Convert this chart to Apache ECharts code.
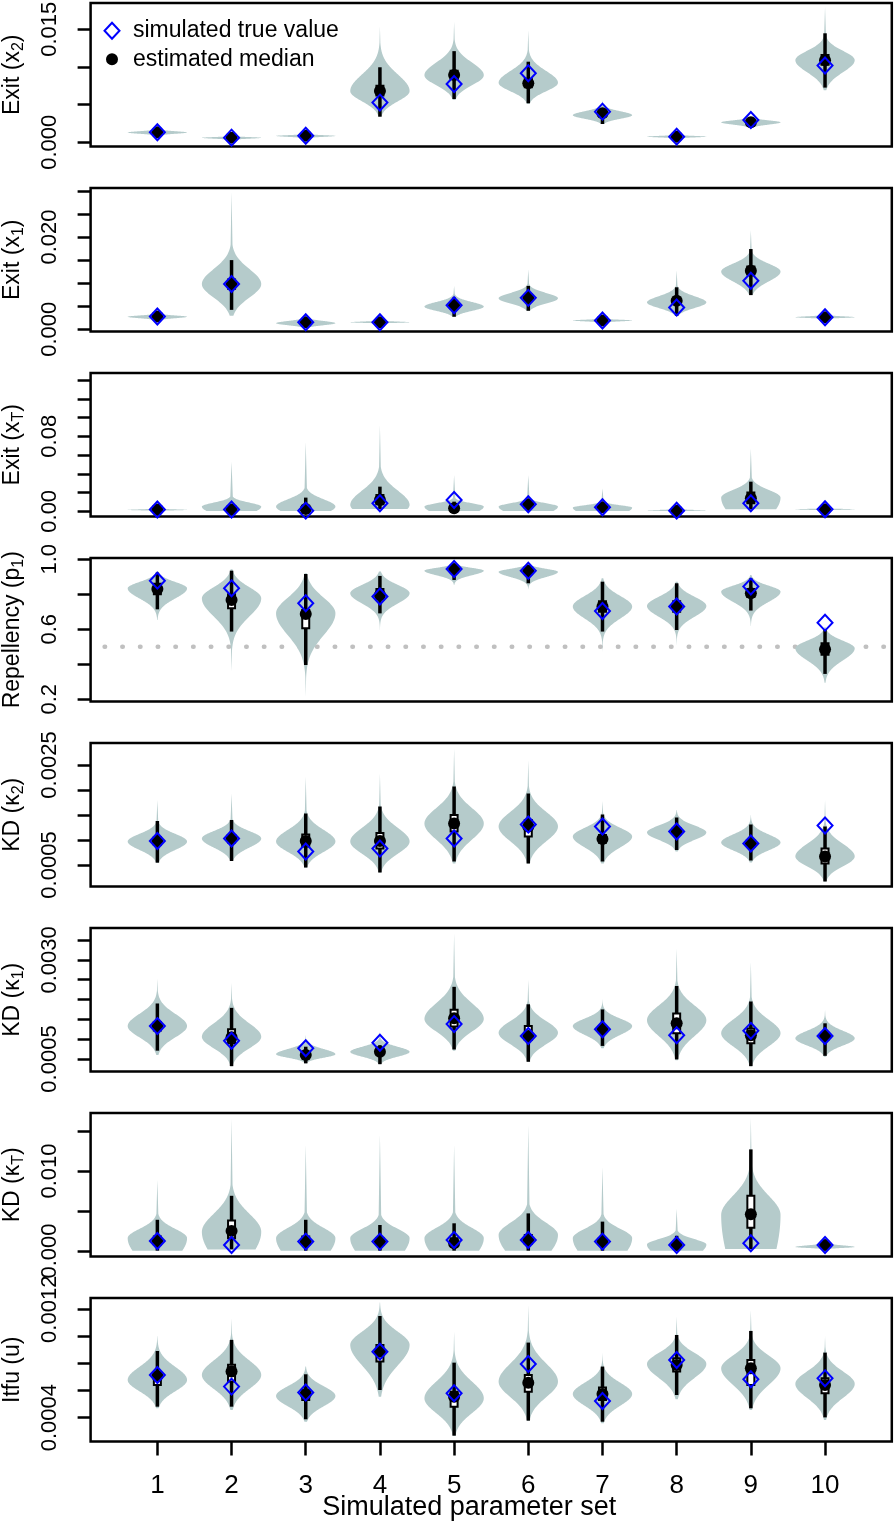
<!DOCTYPE html>
<html>
<head>
<meta charset="utf-8">
<script src="https://cdn.jsdelivr.net/npm/echarts@6/dist/echarts.min.js"></script>
<style>html,body{margin:0;padding:0;background:#fff}#chart{width:894px;height:1523px}</style>
</head>
<body>
<div id="chart"></div>
<script>
// ---------------- data ----------------
const categories = [1, 2, 3, 4, 5, 6, 7, 8, 9, 10];
const panelNames = [
  '{a|Exit (x}{s|2}{a|)}', '{a|Exit (x}{s|1}{a|)}', '{a|Exit (x}{s|T}{a|)}',
  '{a|Repellency (p}{s|1}{a|)}', '{a|KD (κ}{s|2}{a|)}', '{a|KD (κ}{s|1}{a|)}',
  '{a|KD (κ}{s|T}{a|)}', '{a|Itfu (u)}'
];
const xTitle = 'Simulated parameter set';
const legendTrue = 'simulated true value';
const legendMedian = 'estimated median';

// rows = panels (top to bottom), columns = parameter sets 1..10
const medians = [
  [0.00133, 0.00062, 0.00088, 0.0068, 0.00894, 0.00783, 0.00385, 0.00075, 0.00265, 0.0109],
  [0.00274, 0.0098, 0.00152, 0.00152, 0.0052, 0.0068, 0.0019, 0.0062, 0.0127, 0.0026],
  [0.002, 0.002, 0.0025, 0.012, 0.0032, 0.0075, 0.0043, 0.0007, 0.0139, 0.0021],
  [0.830, 0.768, 0.688, 0.796, 0.945, 0.935, 0.730, 0.730, 0.806, 0.486],
  [0.00098, 0.00103, 0.00098, 0.00098, 0.00133, 0.00127, 0.00102, 0.00117, 0.00093, 0.00067],
  [0.00133, 0.00105, 0.0006, 0.00068, 0.00153, 0.00108, 0.00125, 0.0014, 0.0011, 0.00108],
  [0.00125, 0.0025, 0.00117, 0.00117, 0.00096, 0.00138, 0.00117, 0.00075, 0.00458, 0.00075],
  [0.000708, 0.00074, 0.000575, 0.000887, 0.000555, 0.000658, 0.000575, 0.000789, 0.000764, 0.000641]
];
const trueValues = [
  [0.00133, 0.00062, 0.00088, 0.00527, 0.00774, 0.00916, 0.00407, 0.00075, 0.00296, 0.0102],
  [0.00274, 0.0098, 0.00152, 0.00152, 0.0052, 0.0068, 0.0019, 0.0047, 0.0105, 0.0026],
  [0.002, 0.002, 0.0007, 0.0085, 0.012, 0.0075, 0.0043, 0.0007, 0.0085, 0.0021],
  [0.878, 0.834, 0.749, 0.787, 0.945, 0.935, 0.705, 0.730, 0.844, 0.638],
  [0.00098, 0.00103, 0.00077, 0.00083, 0.00103, 0.00131, 0.00127, 0.00117, 0.00093, 0.00129],
  [0.00133, 0.00096, 0.00077, 0.00091, 0.00138, 0.00108, 0.00125, 0.0011, 0.00121, 0.00108],
  [0.00125, 0.00075, 0.00117, 0.00117, 0.00138, 0.00138, 0.00117, 0.00075, 0.00096, 0.00075],
  [0.000715, 0.000629, 0.000585, 0.000887, 0.00058, 0.000796, 0.000523, 0.000826, 0.000683, 0.00069]
];
const whiskerLow = [
  [0.0011, 0.0005, 0.0007, 0.0034, 0.00575, 0.00518, 0.00243, 0.0006, 0.0022, 0.00726],
  [0.0023, 0.0042, 0.0008, 0.0013, 0.0027, 0.0040, 0.0016, 0.0029, 0.0074, 0.0023],
  [0.0005, 0.0005, 0.0004, 0.0025, 0.0004, 0.0004, 0.0004, 0.0003, 0.0021, 0.0012],
  [0.714, 0.587, 0.396, 0.691, 0.882, 0.863, 0.587, 0.596, 0.707, 0.345],
  [0.000547, 0.00058, 0.00045, 0.00035, 0.00057, 0.00053, 0.00057, 0.0008, 0.00059, 0.00017],
  [0.00071, 0.00032, 0.00039, 0.00037, 0.00074, 0.00043, 0.00083, 0.00049, 0.00032, 0.00058],
  [0.00004, 0.0002, 0.00004, 0.00004, 0.00004, 0.00004, 0.00004, 0.00004, 0.00025, 0.0004],
  [0.000481, 0.000481, 0.000388, 0.000604, 0.000267, 0.000378, 0.00037, 0.000567, 0.000469, 0.000402]
];
const whiskerHigh = [
  [0.0015, 0.0008, 0.001, 0.00996, 0.0121, 0.0107, 0.0045, 0.0009, 0.0031, 0.01447],
  [0.0032, 0.015, 0.0021, 0.0018, 0.0069, 0.0094, 0.0021, 0.0091, 0.0174, 0.0029],
  [0.0035, 0.0067, 0.0146, 0.0263, 0.0103, 0.0121, 0.0085, 0.0015, 0.0316, 0.003],
  [0.924, 0.935, 0.916, 0.905, 0.968, 0.962, 0.872, 0.863, 0.891, 0.596],
  [0.00138, 0.0014, 0.00153, 0.00167, 0.00207, 0.00193, 0.00151, 0.00145, 0.00131, 0.00127],
  [0.0019, 0.00179, 0.00081, 0.00085, 0.00232, 0.00188, 0.00175, 0.00234, 0.00195, 0.0014],
  [0.0039, 0.0069, 0.0039, 0.00325, 0.00346, 0.0047, 0.00367, 0.0019, 0.0127, 0.0011],
  [0.000892, 0.000974, 0.00072, 0.00115, 0.000806, 0.000954, 0.000777, 0.00101, 0.00104, 0.00088]
];
const boxLow = [
  [0.0012, 0.00055, 0.0008, 0.0062, 0.0084, 0.0073, 0.0036, 0.0007, 0.0025, 0.0103],
  [0.0026, 0.0088, 0.0013, 0.0014, 0.0047, 0.0063, 0.0018, 0.0055, 0.0119, 0.0025],
  [0.0012, 0.0012, 0.0013, 0.0075, 0.0015, 0.004, 0.0025, 0.0005, 0.0085, 0.0017],
  [0.80, 0.72, 0.606, 0.77, 0.935, 0.92, 0.70, 0.70, 0.785, 0.455],
  [0.0009, 0.00095, 0.00087, 0.00083, 0.00117, 0.00107, 0.00095, 0.00111, 0.00087, 0.00053],
  [0.00122, 0.0009, 0.00055, 0.00062, 0.00132, 0.00098, 0.00117, 0.00115, 0.0009, 0.001],
  [0.0008, 0.0016, 0.0008, 0.0008, 0.0007, 0.0009, 0.0008, 0.0005, 0.0029, 0.0006],
  [0.000641, 0.000666, 0.00053, 0.000814, 0.000481, 0.000592, 0.00053, 0.00074, 0.000641, 0.00058]
];
const boxHigh = [
  [0.00145, 0.0007, 0.00095, 0.0075, 0.0095, 0.0084, 0.0041, 0.0008, 0.0028, 0.0116],
  [0.0029, 0.0108, 0.0017, 0.0016, 0.0057, 0.0073, 0.0020, 0.0068, 0.0136, 0.0027],
  [0.0028, 0.0035, 0.0045, 0.0175, 0.006, 0.011, 0.0065, 0.001, 0.02, 0.0025],
  [0.86, 0.80, 0.71, 0.83, 0.955, 0.948, 0.76, 0.76, 0.83, 0.52],
  [0.00106, 0.0011, 0.00111, 0.00114, 0.0015, 0.0014, 0.0011, 0.00123, 0.001, 0.00083],
  [0.00143, 0.00125, 0.00066, 0.00074, 0.00174, 0.00133, 0.00133, 0.00165, 0.00127, 0.00115],
  [0.0018, 0.0038, 0.0018, 0.0016, 0.0016, 0.0020, 0.0016, 0.001, 0.0069, 0.0009],
  [0.000727, 0.00079, 0.000604, 0.000937, 0.000592, 0.000715, 0.000622, 0.000838, 0.000826, 0.00069]
];
// violin outline: lowest / highest sample, densest value, extent of the main body
const violinLow = [
  [0.00088, 0.0003, 0.00053, 0.0034, 0.00562, 0.0051, 0.00243, 0.0005, 0.00186, 0.0069],
  [0.0019, 0.0029, 0.0004, 0.0012, 0.0027, 0.0040, 0.0014, 0.0029, 0.0074, 0.0022],
  [0.0003, 0.0004, 0.0004, 0.0025, 0.0004, 0.0004, 0.0004, 0.0003, 0.0021, 0.0012],
  [0.653, 0.358, 0.215, 0.596, 0.853, 0.829, 0.472, 0.51, 0.619, 0.295],
  [0.00054, 0.00058, 0.000447, 0.00035, 0.00053, 0.00053, 0.00053, 0.00077, 0.00055, 0.00017],
  [0.0006, 0.00032, 0.00039, 0.00037, 0.00071, 0.00043, 0.00077, 0.00047, 0.00032, 0.00056],
  [0.00004, 0.0002, 0.00004, 0.00004, 0.00004, 0.00004, 0.00004, 0.00004, 0.00025, 0.0002],
  [0.000469, 0.000457, 0.00037, 0.000555, 0.000267, 0.000378, 0.000358, 0.000535, 0.000457, 0.000383]
];
const violinHigh = [
  [0.00173, 0.00084, 0.0011, 0.0154, 0.016, 0.0149, 0.0056, 0.001, 0.0034, 0.018],
  [0.0038, 0.0298, 0.0035, 0.0019, 0.0094, 0.013, 0.0022, 0.0128, 0.0215, 0.0031],
  [0.003, 0.053, 0.074, 0.092, 0.0387, 0.0387, 0.0245, 0.0028, 0.067, 0.0035],
  [0.93, 0.943, 0.92, 0.93, 0.98, 0.977, 0.891, 0.872, 0.91, 0.611],
  [0.0018, 0.00193, 0.00227, 0.00233, 0.00283, 0.0026, 0.00178, 0.0016, 0.0015, 0.0018],
  [0.00253, 0.00242, 0.00111, 0.00119, 0.00367, 0.0025, 0.002, 0.00329, 0.00295, 0.00174],
  [0.0089, 0.0166, 0.0133, 0.0146, 0.0133, 0.0158, 0.0105, 0.0053, 0.0167, 0.0016],
  [0.001, 0.001134, 0.000777, 0.00125, 0.001035, 0.001232, 0.000875, 0.001146, 0.001195, 0.001]
];
const violinMode = [
  [0.0013, 0.0006, 0.00085, 0.0068, 0.0089, 0.0079, 0.0036, 0.00075, 0.00265, 0.0109],
  [0.0027, 0.0098, 0.0013, 0.0015, 0.0049, 0.0067, 0.0019, 0.0058, 0.0125, 0.0026],
  [0.0015, 0.005, 0.005, 0.0067, 0.005, 0.005, 0.0039, 0.0008, 0.0146, 0.0021],
  [0.834, 0.777, 0.691, 0.806, 0.935, 0.928, 0.73, 0.733, 0.815, 0.491],
  [0.00097, 0.00103, 0.00097, 0.00097, 0.00133, 0.00127, 0.00107, 0.00115, 0.00095, 0.00067],
  [0.00133, 0.00106, 0.00062, 0.00068, 0.00151, 0.00116, 0.00133, 0.00148, 0.00115, 0.00102],
  [0.0016, 0.0024, 0.0016, 0.0016, 0.0016, 0.002, 0.0016, 0.0008, 0.0045, 0.0005],
  [0.000678, 0.000715, 0.00056, 0.000937, 0.000543, 0.000666, 0.000575, 0.000796, 0.000764, 0.000649]
];
const bodyLow = [
  [0.00088, 0.0003, 0.00053, 0.0034, 0.0056, 0.0051, 0.0024, 0.0005, 0.0019, 0.0069],
  [0.0019, 0.0025, 0.0002, 0.0012, 0.0026, 0.0039, 0.0014, 0.0028, 0.0072, 0.0022],
  [0.0003, -0.015, -0.015, -0.02, -0.015, -0.015, -0.015, 0.0, -0.04, 0.0008],
  [0.69, 0.52, 0.38, 0.66, 0.87, 0.855, 0.56, 0.58, 0.67, 0.32],
  [0.00055, 0.00058, 0.00045, 0.00036, 0.00053, 0.00053, 0.00053, 0.00078, 0.00056, 0.00018],
  [0.00062, 0.00034, 0.0004, 0.00038, 0.00072, 0.00044, 0.00078, 0.00048, 0.00033, 0.00057],
  [-0.005, -0.006, -0.005, -0.005, -0.005, -0.005, -0.005, -0.003, -0.015, 0.0002],
  [0.00047, 0.00046, 0.00037, 0.00056, 0.00027, 0.00038, 0.00036, 0.00054, 0.00046, 0.00039]
];
const bodyHigh = [
  [0.00173, 0.00084, 0.0011, 0.0123, 0.0131, 0.0118, 0.0049, 0.001, 0.0033, 0.014],
  [0.0034, 0.0179, 0.0025, 0.0019, 0.0074, 0.0096, 0.0023, 0.0092, 0.0168, 0.0031],
  [0.003, 0.0156, 0.0245, 0.045, 0.0139, 0.0139, 0.0103, 0.0025, 0.035, 0.0033],
  [0.925, 0.935, 0.915, 0.925, 0.975, 0.972, 0.88, 0.865, 0.90, 0.60],
  [0.00135, 0.0014, 0.00155, 0.00165, 0.0021, 0.002, 0.0015, 0.0015, 0.00135, 0.0013],
  [0.0021, 0.0019, 0.00095, 0.001, 0.0025, 0.0019, 0.0018, 0.0024, 0.002, 0.0015],
  [0.0045, 0.008, 0.0048, 0.0045, 0.0048, 0.0058, 0.0045, 0.0025, 0.0105, 0.001],
  [0.00092, 0.00098, 0.00074, 0.00118, 0.00085, 0.001, 0.00078, 0.001, 0.001, 0.00088]
];
const yTicks = [
  [0, 0.005, 0.01, 0.015],
  [0, 0.005, 0.01, 0.015, 0.02, 0.025, 0.03],
  [0, 0.02, 0.04, 0.06, 0.08, 0.1, 0.12, 0.14],
  [0.2, 0.4, 0.6, 0.8, 1.0],
  [0.0005, 0.001, 0.0015, 0.002, 0.0025],
  [0.0005, 0.001, 0.0015, 0.002, 0.0025, 0.003, 0.0035],
  [0, 0.005, 0.01, 0.015],
  [0.0004, 0.0006, 0.0008, 0.001, 0.0012]
];
const yTickLabels = [
  [0, 0.015], [0, 0.02], [0, 0.08], [0.2, 0.6, 1.0],
  [0.0005, 0.0025], [0.0005, 0.003], [0, 0.01], [0.0004, 0.0012]
];
const yLabelDigits = [3, 3, 2, 1, 4, 4, 3, 4];
const referenceLine = 0.5; // dotted line in the repellency panel

// ---------------- layout ----------------
const yMin = [-0.000558, -0.0005, -0.00554, 0.1874, 0.00007, 0.000185, -0.00069, 0.000224];
const yMax = [0.018491, 0.03065, 0.14746, 1.0074, 0.00294, 0.003803, 0.01725, 0.001283];
const GRID_LEFT = 90.6, GRID_W = 801.2, GRID_H = 143.5;
const FONT = '"Liberation Sans", Arial, Helvetica, sans-serif';
const VIOLIN_COLOR = '#b5cbcb';
const BLUE = '#0000ff';

const chart = echarts.init(document.getElementById('chart'), null, {renderer: 'canvas'});

const grids = [], xAxes = [], yAxes = [], series = [];
for (let p = 0; p < 8; p++) {
  const isLast = p === 7;
  grids.push({
    left: GRID_LEFT, width: GRID_W, top: 3 + 185 * p, height: GRID_H,
    containLabel: false, outerBoundsMode: 'none',
    show: true, borderColor: '#000', borderWidth: 2.5, backgroundColor: 'transparent'
  });
  xAxes.push({
    type: 'value', gridIndex: p, min: 0.1, max: 10.9,
    axisLine: {show: false}, splitLine: {show: false},
    axisTick: {show: isLast, customValues: categories, length: 14, lineStyle: {color: '#000', width: 2.5}},
    axisLabel: {show: isLast, customValues: categories, fontSize: 26, color: '#000', margin: 31, fontFamily: FONT},
    name: isLast ? xTitle : '', nameLocation: 'middle', nameGap: 53, nameMoveOverlap: false,
    nameTextStyle: {fontSize: 27, color: '#000', fontFamily: FONT, padding: [0, 44, 0, 0]}
  });
  const d = yLabelDigits[p];
  yAxes.push({
    type: 'value', gridIndex: p, min: yMin[p], max: yMax[p],
    axisLine: {show: false}, splitLine: {show: false},
    axisTick: {show: true, customValues: yTicks[p], length: 13, lineStyle: {color: '#000', width: 2.5}},
    axisLabel: {
      show: true, customValues: yTickLabels[p], rotate: 90, fontSize: 22, color: '#000',
      margin: 30, fontFamily: FONT, formatter: v => Number(v).toFixed(d)
    },
    name: panelNames[p], nameLocation: 'middle', nameRotate: 90, nameGap: 64, nameMoveOverlap: false,
    nameTextStyle: {
      fontFamily: FONT, color: '#000',
      rich: {
        a: {fontSize: 23, color: '#000', fontFamily: FONT, lineHeight: 28},
        s: {fontSize: 16, color: '#000', fontFamily: FONT, verticalAlign: 'bottom', lineHeight: 28}
      }
    }
  });

  if (p === 3) {
    series.push({
      type: 'line', xAxisIndex: p, yAxisIndex: p, silent: true, symbol: 'none', z: 1,
      data: [[0.1, referenceLine], [10.9, referenceLine]],
      lineStyle: {color: '#c0c0c0', width: 4.5, type: [0.5, 17.2], cap: 'round', dashOffset: -14}
    });
  }

  const vData = categories.map((c, i) => [
    c, violinLow[p][i], violinHigh[p][i], violinMode[p][i], bodyLow[p][i], bodyHigh[p][i],
    whiskerLow[p][i], whiskerHigh[p][i], boxLow[p][i], boxHigh[p][i]
  ]);
  series.push({
    type: 'custom', xAxisIndex: p, yAxisIndex: p, silent: true, z: 2,
    data: vData,
    renderItem: function (params, api) {
      const x = api.value(0), lo = api.value(1), hi = api.value(2), mode = api.value(3);
      const bl = api.value(4), bh = api.value(5);
      const wl = api.value(6), wh = api.value(7), ql = api.value(8), qh = api.value(9);
      const W = 0.4;
      const sL = Math.max((mode - bl) / 2.5, 1e-12);
      const sU = Math.max((bh - mode) / 2.5, 1e-12);
      const N = 160;
      const right = [], left = [];
      for (let k = 0; k <= N; k++) {
        const v = lo + (hi - lo) * k / N;
        const t = v < mode ? (v - mode) / sL : (v - mode) / sU;
        const body = Math.exp(-0.5 * t * t);
        const needle = v < mode
          ? 0.055 * (v - lo) / Math.max(mode - lo, 1e-12)
          : 0.055 * (hi - v) / Math.max(hi - mode, 1e-12);
        const hw = W * Math.max(body, needle);
        right.push(api.coord([x + hw, v]));
        left.push(api.coord([x - hw, v]));
      }
      const pts = right.concat(left.reverse());
      const top = api.coord([x, wh]), bot = api.coord([x, wl]);
      const qt = api.coord([x, qh]), qb = api.coord([x, ql]);
      return {
        type: 'group',
        children: [
          {type: 'polygon', shape: {points: pts}, style: {fill: VIOLIN_COLOR, stroke: null}},
          {type: 'line', shape: {x1: top[0], y1: top[1], x2: bot[0], y2: bot[1]},
           style: {stroke: '#000', lineWidth: 3.5}},
          {type: 'rect', shape: {x: qt[0] - 3.5, y: qt[1], width: 7, height: Math.max(qb[1] - qt[1], 0.5)},
           style: {fill: '#fff', stroke: '#000', lineWidth: 2}}
        ]
      };
    }
  });
  series.push({
    type: 'scatter', name: legendMedian, xAxisIndex: p, yAxisIndex: p, silent: true, z: 3,
    symbol: 'circle', symbolSize: 12,
    itemStyle: {color: '#000', opacity: 1},
    data: categories.map((c, i) => [c, medians[p][i]])
  });
  series.push({
    type: 'scatter', name: legendTrue, xAxisIndex: p, yAxisIndex: p, silent: true, z: 4,
    symbol: 'diamond', symbolSize: [15, 16],
    itemStyle: {color: 'rgba(0,0,0,0)', borderColor: BLUE, borderWidth: 2, opacity: 1},
    data: categories.map((c, i) => [c, trueValues[p][i]])
  });
}

chart.setOption({
  animation: false,
  backgroundColor: '#fff',
  textStyle: {fontFamily: FONT},
  grid: grids, xAxis: xAxes, yAxis: yAxes, series: series,
  graphic: [
    {type: 'polygon', shape: {points: [[112, 22.7], [119.5, 30.7], [112, 38.7], [104.5, 30.7]]},
     style: {fill: 'none', stroke: BLUE, lineWidth: 2}, z: 10},
    {type: 'text', x: 133, y: 30.7, style: {text: legendTrue, fontSize: 23, fill: '#000',
      fontFamily: FONT, verticalAlign: 'middle', align: 'left'}, z: 10},
    {type: 'circle', shape: {cx: 112, cy: 59.3, r: 6}, style: {fill: '#000'}, z: 10},
    {type: 'text', x: 133, y: 59.3, style: {text: legendMedian, fontSize: 23, fill: '#000',
      fontFamily: FONT, verticalAlign: 'middle', align: 'left'}, z: 10}
  ]
});
</script>
</body>
</html>
